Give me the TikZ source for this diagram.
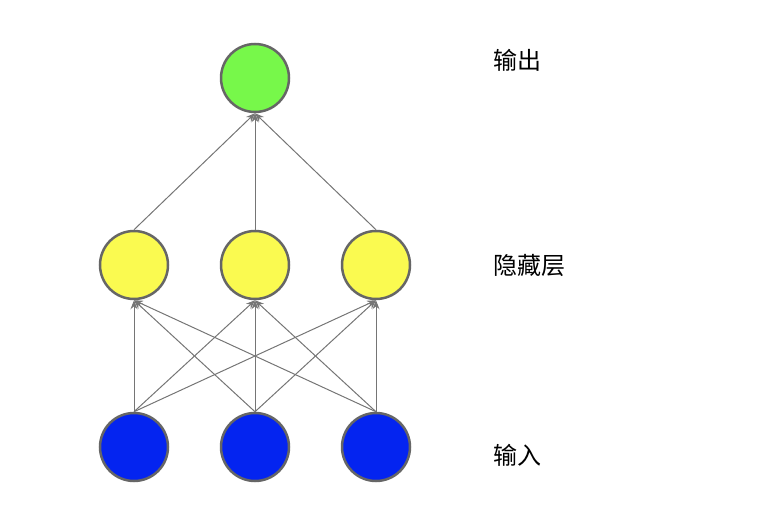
\documentclass[tikz,border=0pt]{standalone}
\usepackage{fontspec}
\newfontfamily\cjk{Noto Sans CJK SC}
\usetikzlibrary{arrows.meta, positioning}
\definecolor{rim}{HTML}{666666}
\definecolor{outgreen}{HTML}{77F84A}
\definecolor{hidyellow}{HTML}{FAFA50}
\definecolor{inblue}{HTML}{0424F0}
\begin{document}
\begin{tikzpicture}[x=1pt,y=-1pt,
		neuron/.style={circle, draw=rim, line width=2.5pt, minimum size=68pt, inner sep=0pt},
		link/.style={draw=rim!90, line width=1pt, -{Stealth[length=9pt,width=7pt]}},
		layer/.style={font=\cjk\fontsize{24}{28}\selectfont, anchor=west}
	]
	\useasboundingbox (0,0) rectangle (766,518);
	% neurons
	\node (o) [neuron, fill=outgreen] at (255,78) {};
	\foreach \i/\x in {1/134, 2/255, 3/376} {
		\node (h\i) [neuron, fill=hidyellow] at (\x,265) {};
		\node (i\i) [neuron, fill=inblue] at (\x,447) {};
	}
	% connections
	\foreach \i in {1,2,3} {
		\draw[link] (h\i.north) -- (o.south);
		\foreach \j in {1,2,3}
			\draw[link] (i\i.north) -- (h\j.south);
	}
	% layer names
	\node [layer] at (490,60) {输出};
	\node [layer] at (490,265) {隐藏层};
	\node [layer] at (490,455) {输入};
\end{tikzpicture}
\end{document}
